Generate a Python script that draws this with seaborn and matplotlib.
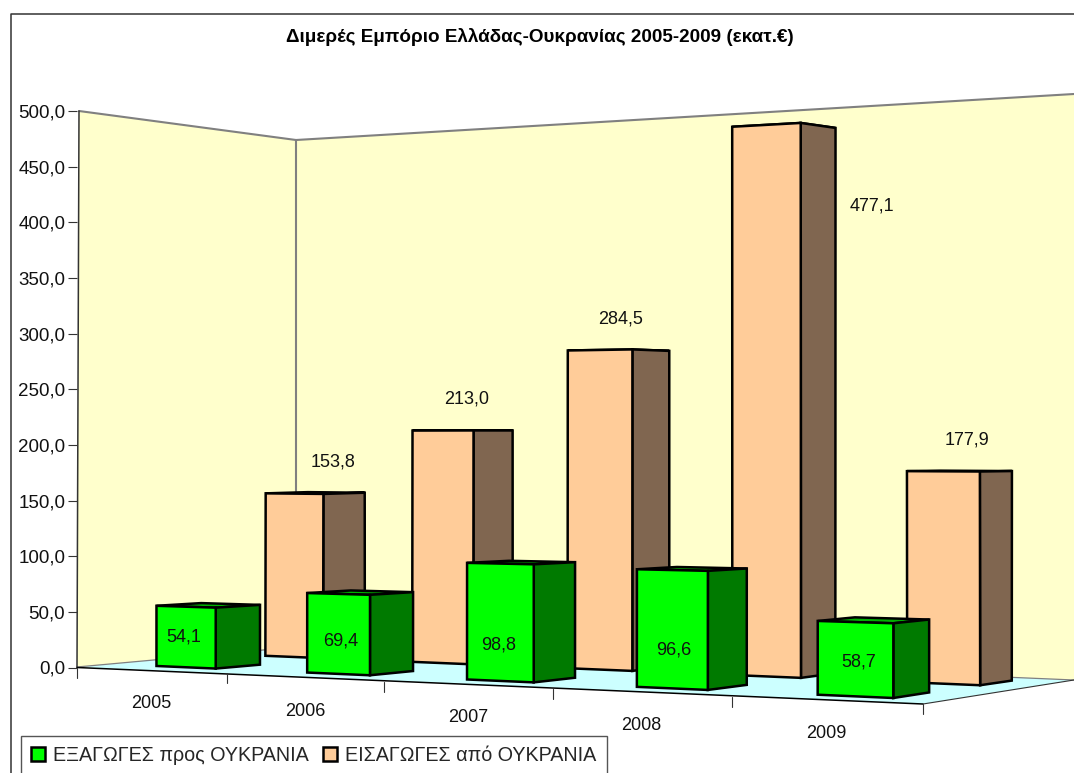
import matplotlib
matplotlib.use("Agg")
import matplotlib.pyplot as plt
import matplotlib.transforms as mtransforms
from matplotlib.patches import Polygon
import numpy as np
import pandas as pd
import seaborn as sns

YEARS = ["2005", "2006", "2007", "2008", "2009"]
EXPORTS = [54.1, 69.4, 98.8, 96.6, 58.7]
IMPORTS = [153.8, 213.0, 284.5, 477.1, 177.9]
EXPORTS_NAME = "ΕΞΑΓΩΓΕΣ προς ΟΥΚΡΑΝΙΑ"
IMPORTS_NAME = "ΕΙΣΑΓΩΓΕΣ από ΟΥΚΡΑΝΙΑ"
TITLE = "Διμερές Εμπόριο Ελλάδας-Ουκρανίας 2005-2009 (εκατ.€)"
Y_TICKS = list(range(0, 501, 50))

W, H = 1074, 773

# the chart is a fake 3D one: (bar position, value) -> pixel, one homography per
# depth plane, calibrated on edges measured in the reference
GREEN_FRONT = [(-.4, 0, 157, 666), (-.4, 54.1, 157, 606), (0, 0, 215, 668), (0, 54.1, 215, 608),
               (1.6, 0, 467, 679), (1.6, 98.8, 467, 563), (2, 0, 534, 683), (2, 98.8, 534, 564),
               (3.6, 0, 818, 695), (3.6, 58.7, 818, 621), (4, 0, 893, 698), (4, 58.7, 893, 623)]
GREEN_BACK = [(0, 0, 260, 664), (0, 54.1, 260, 605), (1, 0, 413, 672), (1, 69.4, 413, 592),
              (2, 0, 575, 677), (2, 98.8, 575, 563), (3, 0, 747, 685), (3, 96.6, 747, 568),
              (4, 0, 929, 693), (4, 58.7, 929, 619)]
ORANGE_FRONT = [(0, 0, 265, 656), (0, 153.8, 265, 493), (.4, 0, 324, 658), (.4, 153.8, 324, 494),
                (2, 0, 567, 668), (2, 284.5, 567, 351), (2.4, 0, 633, 671), (2.4, 284.5, 633, 349),
                (3, 0, 732, 676), (3, 477.1, 732, 127), (3.4, 0, 801, 677), (3.4, 477.1, 801, 123),
                (4, 0, 907, 683), (4, 177.9, 907, 471), (4.4, 0, 980, 685), (4.4, 177.9, 980, 471)]
ORANGE_BACK = [(.4, 0, 365, 654), (.4, 153.8, 365, 492), (1.4, 0, 513, 660), (1.4, 213, 513, 430),
               (2.4, 0, 668, 667), (2.4, 284.5, 668, 351), (3.4, 0, 836, 675), (3.4, 477.1, 836, 128),
               (4.4, 0, 1012, 678), (4.4, 177.9, 1012, 472)]

# text anchors, in pixels
EXPORT_LABELS_AT = [(184, 637), (341, 641), (499, 645), (674, 650), (859, 662)]
IMPORT_LABELS_AT = [(333, 462), (467, 399), (621, 319), (872, 206), (967, 440)]
YEAR_LABELS_AT = [(151, 703), (305, 711), (468, 718), (641, 726), (826, 733)]
X_TICKS_AT = [(77, 668), (227, 673), (384, 682), (553, 689), (732, 697), (923, 704)]


class Plane(mtransforms.Transform):
    input_dims = 2
    output_dims = 2
    is_separable = False
    has_inverse = False

    def __init__(self, points):
        super().__init__()
        rows, rhs = [], []
        for u, v, px, py in points:
            rows.append([u, v, 1, 0, 0, 0, -u * px, -v * px])
            rows.append([0, 0, 0, u, v, 1, -u * py, -v * py])
            rhs += [px, py]
        h = np.linalg.lstsq(np.array(rows, float), np.array(rhs, float), rcond=None)[0]
        self.h = np.append(h, 1).reshape(3, 3)

    def transform_non_affine(self, values):
        values = np.asarray(values, float)
        xyw = np.column_stack([values, np.ones(len(values))]) @ self.h.T
        return xyw[:, :2] / xyw[:, 2:]


sns.set_theme(style="ticks")
plt.rcParams["font.family"] = ["Liberation Sans", "DejaVu Sans"]

df = pd.DataFrame({
    "year": YEARS * 2,
    "value": EXPORTS + IMPORTS,
    "series": [EXPORTS_NAME] * 5 + [IMPORTS_NAME] * 5,
})

fig = plt.figure(figsize=(W / 100, H / 100), dpi=100)
ax = fig.add_axes([77 / W, (H - 667.5) / H, 900 / W, 556.5 / H])
ax.patch.set_alpha(0)

PX = mtransforms.Affine2D().scale(1, -1).translate(0, H)


def poly(points, **kw):
    ax.add_patch(Polygon(points, closed=True, transform=PX, clip_on=False, **kw))


def line(xs, ys, **kw):
    ax.plot(xs, ys, transform=PX, clip_on=False, **kw)


sns.barplot(
    data=df, x="year", y="value", hue="series",
    hue_order=[EXPORTS_NAME, IMPORTS_NAME],
    palette=["#00FF00", "#FFCC99"], saturation=1,
    edgecolor="black", linewidth=1.8, ax=ax,
)
ax.set_xlabel("")
ax.set_ylabel("")
ax.set_ylim(0, 500)
ax.set_xticks([])
ax.set_yticks(Y_TICKS)
ax.set_yticklabels([f"{t:.1f}".replace(".", ",") for t in Y_TICKS], fontsize=13.5)
ax.tick_params(axis="y", length=6.5, width=0.8, pad=2, color="#333333", labelcolor="#111111")
sns.despine(ax=ax, left=True, bottom=True)

# walls and floor
poly([(79, 111), (296, 140), (296, 647), (77, 667)], fc="#FFFFCC", ec="none", zorder=0.5)
poly([(296, 140), (1074, 94), (1074, 680), (296, 647)], fc="#FFFFCC", ec="none", zorder=0.5)
poly([(77, 667), (296, 647), (1074, 680), (923, 704)], fc="#CCFFFF", ec="none", zorder=0.6)
line([79, 296, 1074], [111, 140, 94], color="#808080", lw=1.5, zorder=0.8)
line([296, 296], [140, 500], color="#808080", lw=1.5, zorder=0.8)
line([77, 296, 1074], [667, 647, 680], color="#808080", lw=0.9, zorder=0.8)
line([79, 77], [111, 667], color="#333333", lw=1.1, zorder=0.8)
line([77, 923], [667.5, 704], color="black", lw=1.1, zorder=0.9)
line([923, 1074], [704, 680], color="#333333", lw=0.8, zorder=0.9)
for tx, ty in X_TICKS_AT:
    line([tx, tx], [ty, ty + 10], color="#333333", lw=0.8, zorder=0.9)

# each seaborn bar is pushed onto its front plane, the depth faces come from the same bar
series = [
    (ax.patches[:5], Plane(GREEN_FRONT), Plane(GREEN_BACK), "#007A00", "#00B000", 5),
    (ax.patches[5:10], Plane(ORANGE_FRONT), Plane(ORANGE_BACK), "#806650", "#806650", 2),
]
for bars, front, back, side_color, top_color, z in series:
    for bar in bars:
        u0, u1, v = bar.get_x(), bar.get_x() + bar.get_width(), bar.get_height()
        bar.set_transform(front + PX)
        bar.set_clip_on(False)
        bar.set_zorder(z + 0.2)
        bar.set_joinstyle("miter")
        f = front.transform_non_affine(np.array([[u0, v], [u1, v], [u1, 0]]))
        b = back.transform_non_affine(np.array([[u0, v], [u1, v], [u1, 0]]))
        poly([f[0], b[0], b[1], f[1]], fc=top_color, ec="black", lw=1.8, zorder=z, joinstyle="miter")
        poly([f[1], b[1], b[2], f[2]], fc=side_color, ec="black", lw=1.8, zorder=z + 0.1, joinstyle="miter")

# labels
for value, (tx, ty) in zip(EXPORTS, EXPORT_LABELS_AT):
    ax.text(tx, ty, f"{value:.1f}".replace(".", ","), transform=PX, ha="center", va="center",
            fontsize=13, color="#111111", zorder=10)
for value, (tx, ty) in zip(IMPORTS, IMPORT_LABELS_AT):
    ax.text(tx, ty, f"{value:.1f}".replace(".", ","), transform=PX, ha="center", va="center",
            fontsize=13, color="#111111", zorder=10)
for year, (tx, ty) in zip(YEARS, YEAR_LABELS_AT):
    ax.text(tx, ty, year, transform=PX, ha="center", va="center", fontsize=13,
            color="#111111", clip_on=False)

fig.text(540 / W, 1 - 36.5 / H, TITLE, ha="center", va="center", fontsize=13.6, fontweight="bold", color="black")

# chart frame, cut by the image on the right and at the bottom
line([11, 11, W], [H, 14, 14], color="#333333", lw=1.1, zorder=0.9)

sns.move_legend(
    ax, "upper left", bbox_to_anchor=(20.5 / W, 1 - 735.5 / H), bbox_transform=fig.transFigure,
    ncol=2, title=None, frameon=True, fancybox=False, edgecolor="#555555", framealpha=1,
    fontsize=14.2, borderaxespad=0, borderpad=0.55, handlelength=0.71, handleheight=0.71,
    handletextpad=0.38, columnspacing=0.75,
)

fig.savefig("out.png", dpi=100)
